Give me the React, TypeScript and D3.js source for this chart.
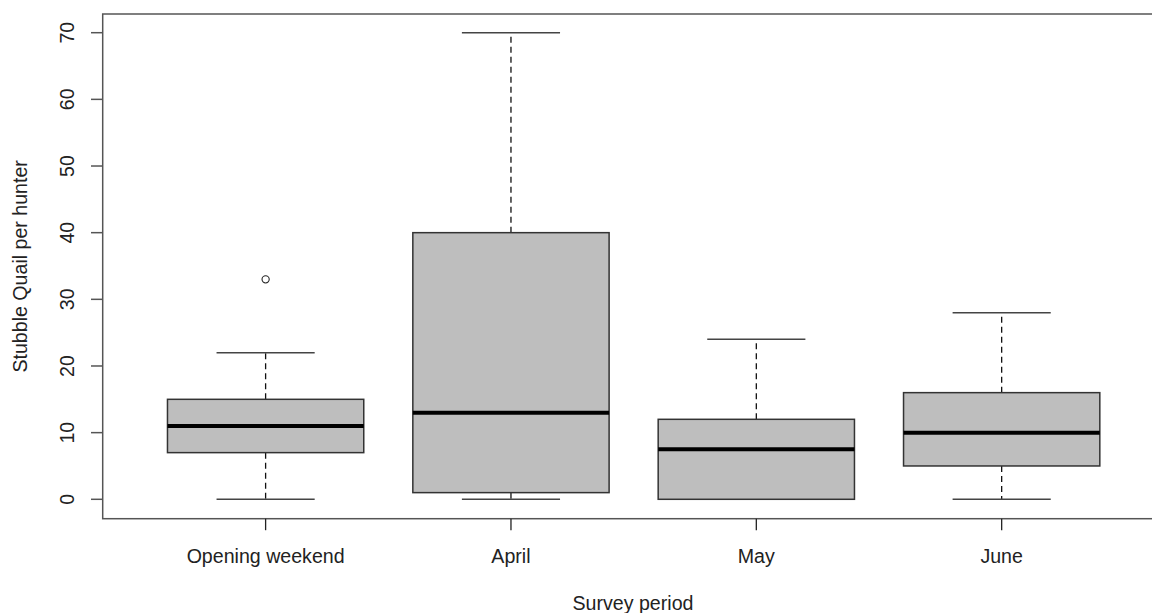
import React from "react";
import * as d3 from "d3";

const categories = ["Opening weekend", "April", "May", "June"];
const lowerWhisker = [0, 0, 0, 0];
const q1 = [7, 1, 0, 5];
const medians = [11, 13, 7.5, 10];
const q3 = [15, 40, 12, 16];
const upperWhisker = [22, 70, 24, 28];
const outliers = [[33], [], [], []];
const yTicks = [0, 10, 20, 30, 40, 50, 60, 70];

const width = 1152, height = 613;
const plot = { left: 102.7, right: 1156, top: 14, bottom: 518.7 };
const font = "'Liberation Sans', Arial, sans-serif";
const axisColor = "#555";

const App = () => {
  // x in "box index" units like R's boxplot (1..n)
  const x = d3.scaleLinear().domain([0.336, 4.629]).range([plot.left, plot.right]);
  const y = d3.scaleLinear().domain([0, 70]).range([499.3, 32.7]);
  const boxHalf = 0.4, capHalf = 0.2;

  return (
    <svg width={width} height={height} style={{ position: "absolute", left: 0, top: 0, background: "#fff" }}>
      {categories.map((c, i) => {
        const pos = i + 1;
        const cx = x(pos);
        return (
          <g key={c}>
            {/* whiskers */}
            <line x1={cx} x2={cx} y1={y(q3[i])} y2={y(upperWhisker[i])} stroke="#111" strokeWidth={1.3} strokeDasharray="6,4" />
            <line x1={cx} x2={cx} y1={y(q1[i])} y2={y(lowerWhisker[i])} stroke="#111" strokeWidth={1.3} strokeDasharray="6,4" />
            <line x1={x(pos - capHalf)} x2={x(pos + capHalf)} y1={y(upperWhisker[i])} y2={y(upperWhisker[i])} stroke="#444" strokeWidth={1.5} />
            <line x1={x(pos - capHalf)} x2={x(pos + capHalf)} y1={y(lowerWhisker[i])} y2={y(lowerWhisker[i])} stroke="#444" strokeWidth={1.5} />
            {/* box */}
            <rect x={x(pos - boxHalf)} y={y(q3[i])} width={x(pos + boxHalf) - x(pos - boxHalf)} height={y(q1[i]) - y(q3[i])}
              fill="#bebebe" stroke="#333" strokeWidth={1.5} />
            <line x1={x(pos - boxHalf)} x2={x(pos + boxHalf)} y1={y(medians[i])} y2={y(medians[i])} stroke="#000" strokeWidth={4} />
            {outliers[i].map((o, j) => (
              <circle key={j} cx={cx} cy={y(o)} r={3.6} fill="none" stroke="#222" strokeWidth={1.1} />
            ))}
          </g>
        );
      })}

      {/* plot frame */}
      <rect x={plot.left} y={plot.top} width={plot.right - plot.left} height={plot.bottom - plot.top} fill="none" stroke={axisColor} strokeWidth={1.5} />

      {/* y axis */}
      {yTicks.map(t => (
        <g key={t}>
          <line x1={plot.left - 11.7} x2={plot.left} y1={y(t)} y2={y(t)} stroke={axisColor} strokeWidth={1.5} />
          <text transform={`translate(74,${y(t)}) rotate(-90)`} textAnchor="middle" fontFamily={font} fontSize={19.6} fill="#222">{t}</text>
        </g>
      ))}

      {/* x axis */}
      {categories.map((c, i) => (
        <g key={c}>
          <line x1={x(i + 1)} x2={x(i + 1)} y1={plot.bottom} y2={plot.bottom + 11.5} stroke="#222" strokeWidth={1.3} />
          <text x={x(i + 1)} y={563} textAnchor="middle" fontFamily={font} fontSize={19.6} fill="#222">{c}</text>
        </g>
      ))}

      <text x={633} y={610} textAnchor="middle" fontFamily={font} fontSize={19.6} fill="#222">Survey period</text>
      <text transform={`translate(26.7,${(plot.top + plot.bottom) / 2}) rotate(-90)`} textAnchor="middle" fontFamily={font} fontSize={19.6} fill="#222">Stubble Quail per hunter</text>
    </svg>
  );
};

export default App;
